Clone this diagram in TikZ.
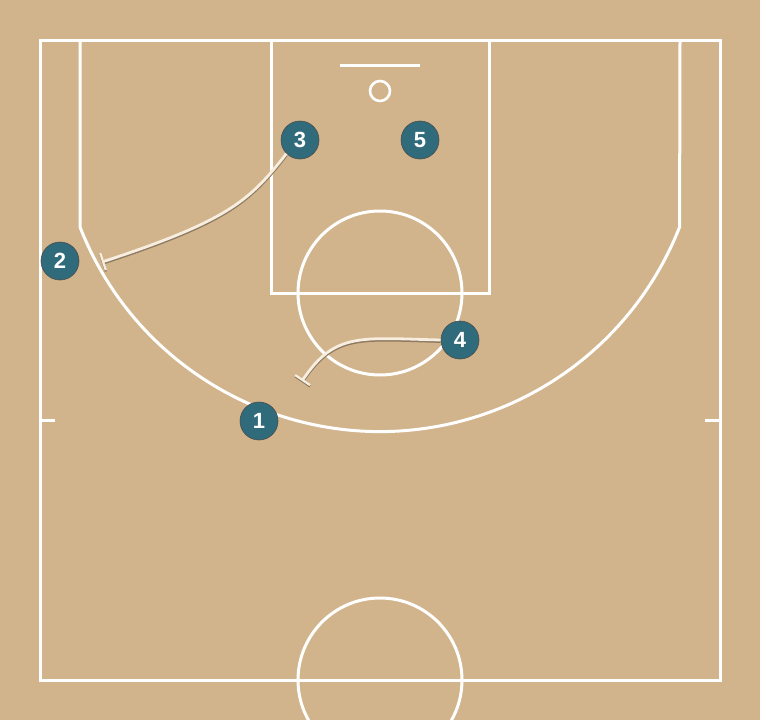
\documentclass[tikz,border=0pt]{standalone}
\usepackage{fontspec}
\setsansfont{Liberation Sans}
\usetikzlibrary{arrows.meta}

\definecolor{floor}{HTML}{D2B48C}
\definecolor{teal}{HTML}{2F6B7B}
\definecolor{cream}{HTML}{F7EEDF}
\definecolor{shade}{HTML}{8E7A62}

\tikzset{
  court/.style={draw=white, line width=3pt},
  player/.style={circle, fill=teal, draw=black!70, line width=0.6pt,
    minimum size=38pt, inner sep=0pt, text=white,
    font=\sffamily\bfseries\fontsize{22}{22}\selectfont},
  screen/.style={draw=cream, line width=2.8pt, -{Bar[width=18pt,line width=2.2pt]},
    preaction={draw=shade, line width=3.2pt, transform canvas={yshift=-1.3pt}, -{Bar[width=18pt,line width=2.2pt]}}}
}

\begin{document}
\begin{tikzpicture}[x=1pt, y=-1pt]
  \useasboundingbox (0,0) rectangle (760,720);
  \fill[floor] (0,0) rectangle (760,720);

  % court lines
  \begin{scope}
    \clip (0,0) rectangle (760,720);
    \draw[court] (40,40) rectangle (720,680);
    \draw[court] (271,40) rectangle (489,293);
    \draw[court] (380,293) circle[radius=82];
    \draw[court] (380,680) circle[radius=82];
    \draw[court] (80,40) -- (80,227)
      arc[start angle=201.4, end angle=338.6, x radius=322, y radius=-322] -- (680,40);
    \draw[court] (340,65) -- (420,65);
    \draw[court, line width=2.6pt] (380,91) circle[radius=10];
    \draw[court] (40,420) -- (55,420);
    \draw[court] (705,420) -- (720,420);
  \end{scope}

  % players
  \node[player] (p1) at (259,421) {1};
  \node[player] (p2) at (60,261) {2};
  \node[player] (p3) at (300,140) {3};
  \node[player] (p4) at (460,340) {4};
  \node[player] (p5) at (420,140) {5};

  % screens
  \coordinate (s3) at (102,262);
  \coordinate (s4) at (302,381);
  \draw[screen] (p3.225) .. controls (250,200) and (230,220) .. (s3);
  \draw[screen] (p4.west) .. controls (360,338) and (335,332) .. (s4);
\end{tikzpicture}
\end{document}
